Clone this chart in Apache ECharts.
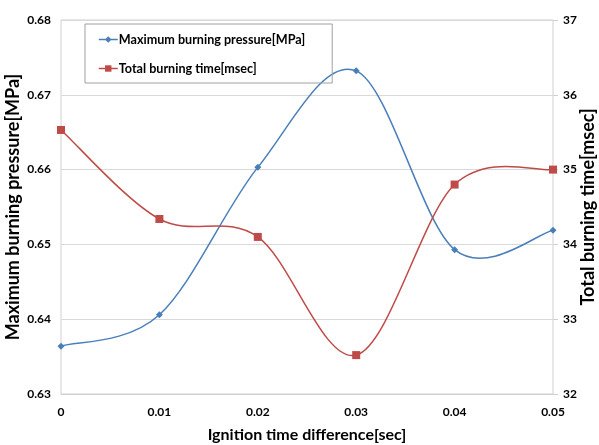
<!DOCTYPE html>
<html>
<head>
<meta charset="utf-8">
<script src="https://cdn.jsdelivr.net/npm/echarts@6/dist/echarts.min.js"></script>
<style>
html,body{margin:0;padding:0;background:#fff;}
#chart{width:599px;height:445px;}
</style>
</head>
<body>
<div id="chart"></div>
<script>
// Ignition time difference [sec]
const ignitionDiff = ['0', '0.01', '0.02', '0.03', '0.04', '0.05'];
// Maximum burning pressure [MPa]
const maxPressure = [0.6364, 0.6406, 0.6603, 0.6732, 0.6493, 0.6519];
// Total burning time [msec]
const burnTime = [35.53, 34.34, 34.10, 32.52, 34.80, 35.00];

const FONT = 'Lato';
const BLUE = '#4a7ebb';
const RED = '#be4b48';
const chart = echarts.init(document.getElementById('chart'));

const axisLabel = { color: '#000', fontFamily: FONT, fontWeight: 'bold', fontSize: 12 };
const nameStyle = { color: '#000', fontFamily: FONT, fontWeight: 'bold', fontSize: 18 };

// Smoothed curve through every point (cardinal Bezier, tension 1/6),
// built in pixel space from the axis coordinates of the data.
function smoothCurve(values, color) {
  return function (params, api) {
    if (params.dataIndex !== 0) return null;
    const p = values.map((v, i) => api.coord([i, v]));
    const n = p.length;
    const t = 1 / 6;
    let d = 'M' + p[0][0] + ' ' + p[0][1];
    for (let i = 0; i < n - 1; i++) {
      const a = p[Math.max(i - 1, 0)], b = p[i], c = p[i + 1], e = p[Math.min(i + 2, n - 1)];
      const c1 = [b[0] + (c[0] - a[0]) * t, b[1] + (c[1] - a[1]) * t];
      const c2 = [c[0] - (e[0] - b[0]) * t, c[1] - (e[1] - b[1]) * t];
      d += ' C' + c1[0] + ' ' + c1[1] + ' ' + c2[0] + ' ' + c2[1] + ' ' + c[0] + ' ' + c[1];
    }
    return {
      type: 'path',
      shape: { pathData: d },
      style: { fill: null, stroke: color, lineWidth: 1.5 }
    };
  };
}

chart.setOption({
  animation: false,
  backgroundColor: '#fff',
  grid: {
    left: 61, right: 46, top: 20, bottom: 51,
    containLabel: false, outerBoundsMode: 'none',
    show: true, borderColor: '#d0d0d0', borderWidth: 1
  },
  legend: {
    orient: 'vertical',
    left: 85, top: 24,
    padding: [9, 27, 8, 13],
    itemGap: 16,
    itemWidth: 19, itemHeight: 8,
    borderColor: '#a0a0a0', borderWidth: 1,
    textStyle: { color: '#000', fontFamily: FONT, fontWeight: 'bold', fontSize: 12.6, padding: [0, 0, 0, -4] },
    data: [
      { name: 'Maximum burning pressure[MPa]', lineStyle: { opacity: 1, color: BLUE, width: 1.5 } },
      { name: 'Total burning time[msec]', lineStyle: { opacity: 1, color: RED, width: 1.5 } }
    ]
  },
  xAxis: {
    type: 'category',
    data: ignitionDiff,
    boundaryGap: false,
    name: 'Ignition time difference[sec]',
    nameLocation: 'middle',
    nameGap: 33,
    nameMoveOverlap: false,
    nameTextStyle: Object.assign({}, nameStyle, { fontSize: 16 }),
    axisLine: { lineStyle: { color: '#d0d0d0' } },
    axisTick: { show: false },
    axisLabel: Object.assign({ margin: 12 }, axisLabel),
    splitLine: { show: false }
  },
  yAxis: [{
    type: 'value', min: 0.63, max: 0.68, interval: 0.01,
    name: 'Maximum burning pressure[MPa]',
    nameLocation: 'middle', nameGap: 39,
    nameMoveOverlap: false,
    nameTextStyle: nameStyle,
    axisLine: { show: false },
    axisTick: { show: false },
    axisLabel: Object.assign({ margin: 10, formatter: v => v.toFixed(2) }, axisLabel),
    splitLine: { lineStyle: { color: '#d9d9d9' } }
  }, {
    type: 'value', min: 32, max: 37, interval: 1,
    name: 'Total burning time[msec]',
    nameLocation: 'middle', nameGap: 26,
    nameMoveOverlap: false,
    nameTextStyle: nameStyle,
    axisLine: { show: false },
    axisTick: { show: true, length: 5, lineStyle: { color: '#d0d0d0' } },
    axisLabel: Object.assign({ margin: 10 }, axisLabel),
    splitLine: { show: false }
  }],
  series: [{
    type: 'custom',
    yAxisIndex: 0,
    silent: true,
    z: 1,
    data: maxPressure.map((v, i) => [i, v]),
    renderItem: smoothCurve(maxPressure, BLUE)
  }, {
    type: 'custom',
    yAxisIndex: 1,
    silent: true,
    z: 1,
    data: burnTime.map((v, i) => [i, v]),
    renderItem: smoothCurve(burnTime, RED)
  }, {
    name: 'Maximum burning pressure[MPa]',
    type: 'line',
    yAxisIndex: 0,
    z: 3,
    data: maxPressure,
    symbol: 'diamond', symbolSize: 7,
    itemStyle: { color: BLUE },
    lineStyle: { color: BLUE, width: 1.5, opacity: 0 }
  }, {
    name: 'Total burning time[msec]',
    type: 'line',
    yAxisIndex: 1,
    z: 3,
    data: burnTime,
    symbol: 'rect', symbolSize: 8,
    itemStyle: { color: RED },
    lineStyle: { color: RED, width: 1.5, opacity: 0 }
  }]
});
</script>
</body>
</html>
